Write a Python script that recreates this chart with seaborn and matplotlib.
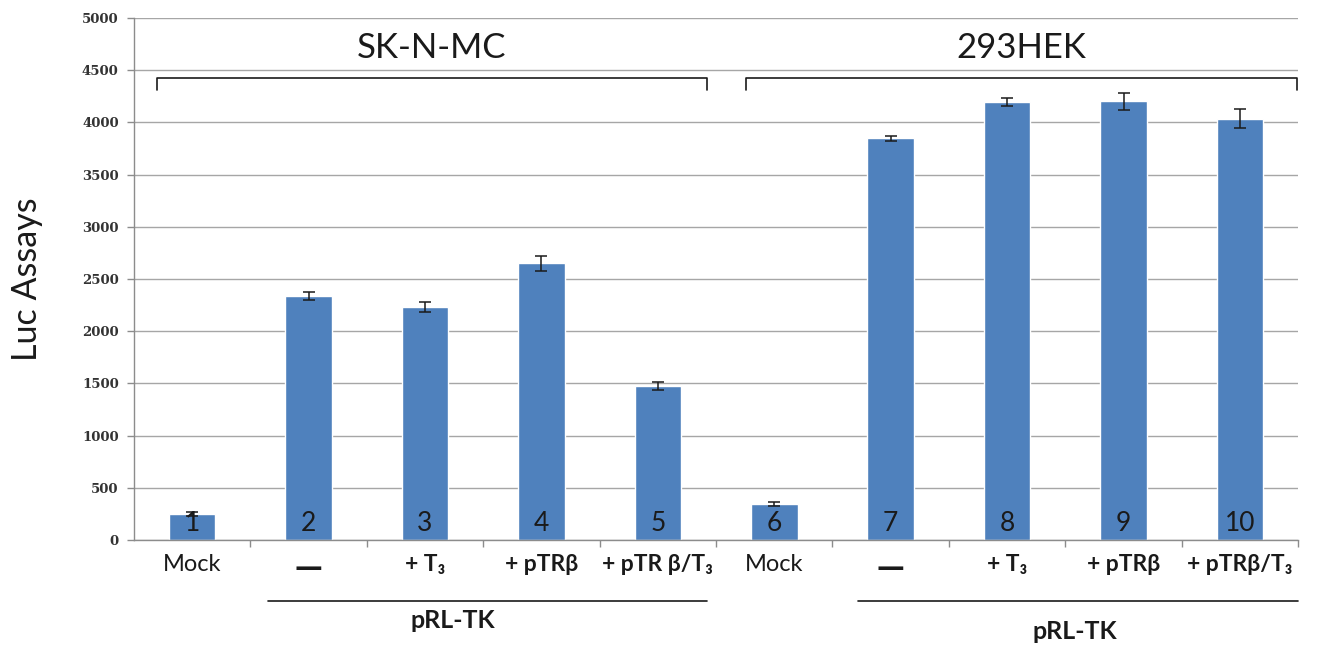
import matplotlib
matplotlib.use("Agg")
import matplotlib.pyplot as plt
import matplotlib.transforms as mtransforms
import seaborn as sns
import pandas as pd

# Luciferase readings per lane (mean and error)
lanes = ["1", "2", "3", "4", "5", "6", "7", "8", "9", "10"]
luc_values = [245, 2337, 2232, 2650, 1478, 343, 3847, 4195, 4202, 4035]
luc_errors = [20, 40, 48, 70, 37, 17, 24, 35, 80, 90]
tick_labels = ["Mock", "—", "+ T₃", "+ pTRβ", "+ pTR β/T₃",
               "Mock", "—", "+ T₃", "+ pTRβ", "+ pTRβ/T₃"]
cell_lines = ["SK-N-MC", "293HEK"]
y_ticks = [0, 500, 1000, 1500, 2000, 2500, 3000, 3500, 4000, 4500, 5000]

df = pd.DataFrame({"lane": lanes, "luc": luc_values})

sns.set_theme(style="white")
sans = ["Lato", "DejaVu Sans"]
plt.rcParams["font.family"] = sans

fig = plt.figure(figsize=(13.26, 6.48), dpi=100)
ax = fig.add_axes([0.101, 0.1667, 0.878, 0.8055])

bar_blue = "#4F81BD"
sns.barplot(data=df, x="lane", y="luc", order=lanes, color=bar_blue,
            saturation=1, width=0.4, errorbar=None, ax=ax, zorder=2)

xs = [p.get_x() + p.get_width() / 2 for p in ax.patches]
hs = [p.get_height() for p in ax.patches]
ax.errorbar(xs, hs, yerr=luc_errors, fmt="none", ecolor="#1a1a1a",
            elinewidth=1.1, capsize=4, capthick=1.1, zorder=3)

# Lane numbers at the foot of each bar
for x, lab in zip(xs, lanes):
    ax.text(x, 40, lab, ha="center", va="bottom", fontsize=19,
            color="#1a1a1a", family=sans, zorder=4)

ax.set_xlim(-0.5, 9.5)
ax.set_ylim(0, 5000)
ax.set_yticks(y_ticks)
ax.set_yticklabels([str(v) for v in y_ticks], family="DejaVu Serif",
                   fontweight="bold", fontsize=9.5, color="#333333")
ax.yaxis.grid(True, color="#a6a6a6", linewidth=1.0)
ax.set_axisbelow(True)

ax.set_xticks(range(len(lanes)))
ax.set_xticklabels(tick_labels)
for i, t in enumerate(ax.get_xticklabels()):
    t.set_color("#1a1a1a")
    lab = tick_labels[i]
    if lab == "Mock":
        t.set_family(sans)
        t.set_fontsize(17)
    elif lab == "—":
        t.set_family("DejaVu Sans")
        t.set_fontsize(20)
        t.set_fontweight("bold")
    else:
        t.set_family(sans)
        t.set_fontsize(16.5)
        t.set_fontweight("bold")
ax.tick_params(axis="x", which="major", length=0, pad=10)
ax.set_xticks([i + 0.5 for i in range(len(lanes))], minor=True)
ax.tick_params(axis="x", which="minor", length=5, color="#8c8c8c",
               width=1, direction="out", bottom=True)
ax.tick_params(axis="y", length=5, color="#8c8c8c", width=1,
               direction="out", left=True, pad=6)

for side in ["top", "right"]:
    ax.spines[side].set_visible(False)
for side in ["left", "bottom"]:
    ax.spines[side].set_color("#8c8c8c")
    ax.spines[side].set_linewidth(1.0)

ax.set_xlabel("")
ax.set_ylabel("Luc Assays", fontsize=24.5, family=sans, color="#1a1a1a",
              labelpad=28)

# Brackets grouping the two cell lines
for x0, x1, name in [(-0.30, 4.42, cell_lines[0]), (4.76, 9.49, cell_lines[1])]:
    ax.plot([x0, x0, x1, x1], [4310, 4425, 4425, 4310], color="#1a1a1a",
            linewidth=1.2, clip_on=False, zorder=4)
    ax.text((x0 + x1) / 2, 4710, name, ha="center", va="center",
            fontsize=25, family=sans, color="#1a1a1a")

# Underline marking the pRL-TK lanes
trans = mtransforms.blended_transform_factory(ax.transData, ax.transAxes)
for x0, x1, tx, ty in [(0.65, 4.42, 2.24, -0.155), (5.72, 9.5, 7.58, -0.175)]:
    ax.plot([x0, x1], [-0.117, -0.117], transform=trans, color="#1a1a1a",
            linewidth=1.2, clip_on=False)
    ax.text(tx, ty, "pRL-TK", transform=trans, ha="center",
            va="center", fontsize=18, fontweight="bold", family=sans,
            color="#1a1a1a")

fig.savefig("out.png", dpi=100)
